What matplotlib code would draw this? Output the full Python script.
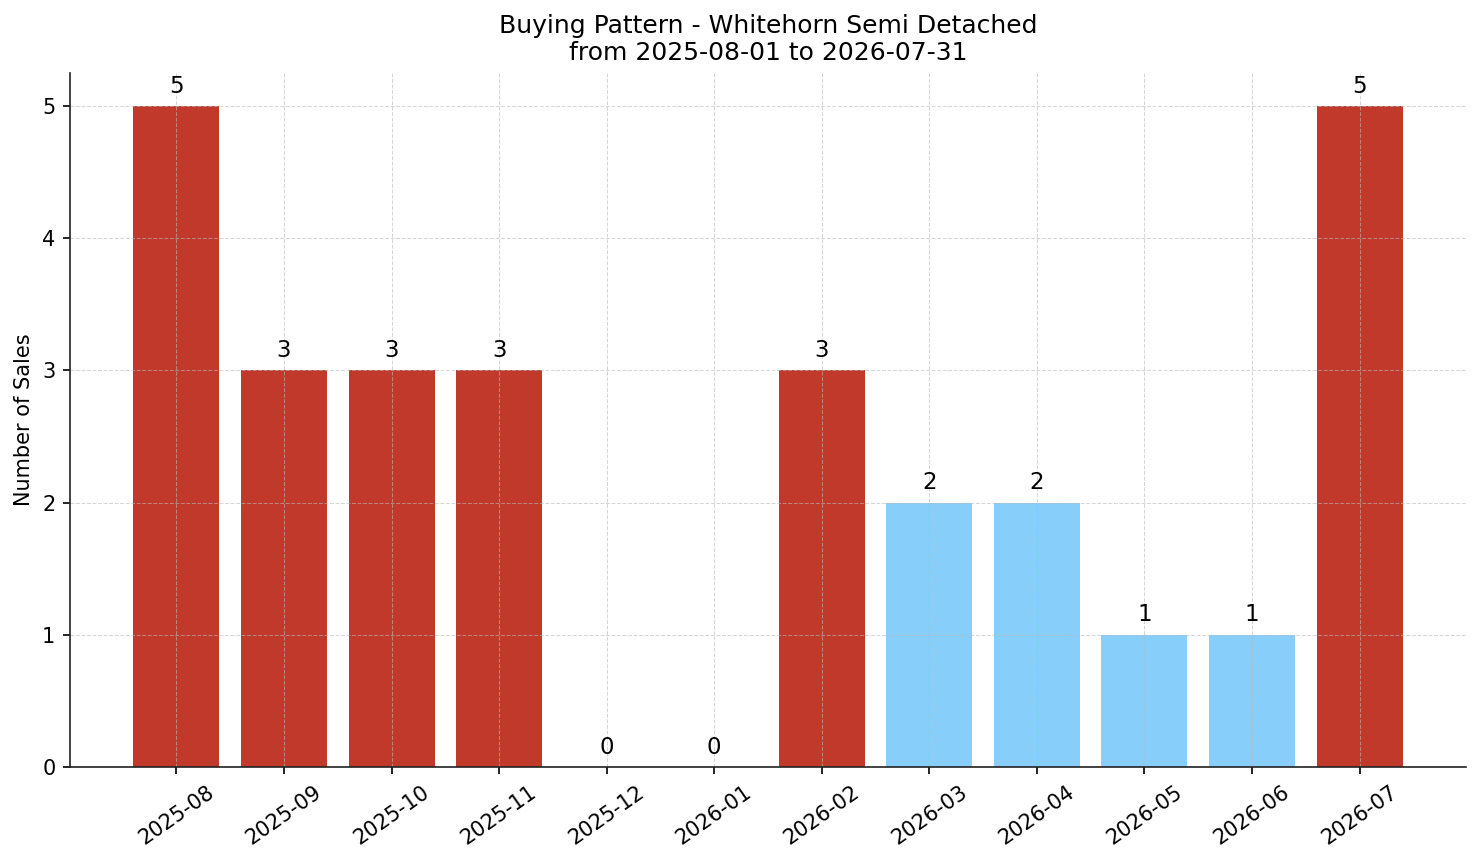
import matplotlib
matplotlib.use("Agg")
import matplotlib.pyplot as plt

months = ['2025-08', '2025-09', '2025-10', '2025-11', '2025-12', '2026-01',
          '2026-02', '2026-03', '2026-04', '2026-05', '2026-06', '2026-07']
sales = [5, 3, 3, 3, 0, 0, 3, 2, 2, 1, 1, 5]

# busy months in red, quiet months in light blue
threshold = 3
colors = ['#c0392b' if s >= threshold else '#87cefa' for s in sales]

fig = plt.figure(figsize=(1481 / 150, 863 / 150), dpi=150)
ax = fig.add_axes([70 / 1481, 1 - 767 / 863, (1466 - 70) / 1481, (767 - 73) / 863])

x = range(len(months))
bars = ax.bar(x, sales, color=colors, width=0.8)

for b, s in zip(bars, sales):
    ax.annotate(str(s), (b.get_x() + b.get_width() / 2, b.get_height()),
                xytext=(0, 4), textcoords='offset points',
                ha='center', va='bottom', fontsize=11)

ax.set_xticks(list(x))
ax.set_xticklabels(months, rotation=35, fontsize=10)
ax.tick_params(axis='y', labelsize=10)
ax.set_ylabel('Number of Sales', fontsize=10)
ax.set_title('Buying Pattern - Whitehorn Semi Detached\nfrom 2025-08-01 to 2026-07-31', fontsize=12)

ax.grid(True, linestyle='--', linewidth=0.5, color='#bbbbbb', alpha=0.6)
ax.spines['top'].set_visible(False)
ax.spines['right'].set_visible(False)
for side in ['left', 'bottom']:
    ax.spines[side].set_color('#222222')

fig.savefig('out.png', dpi=150)
